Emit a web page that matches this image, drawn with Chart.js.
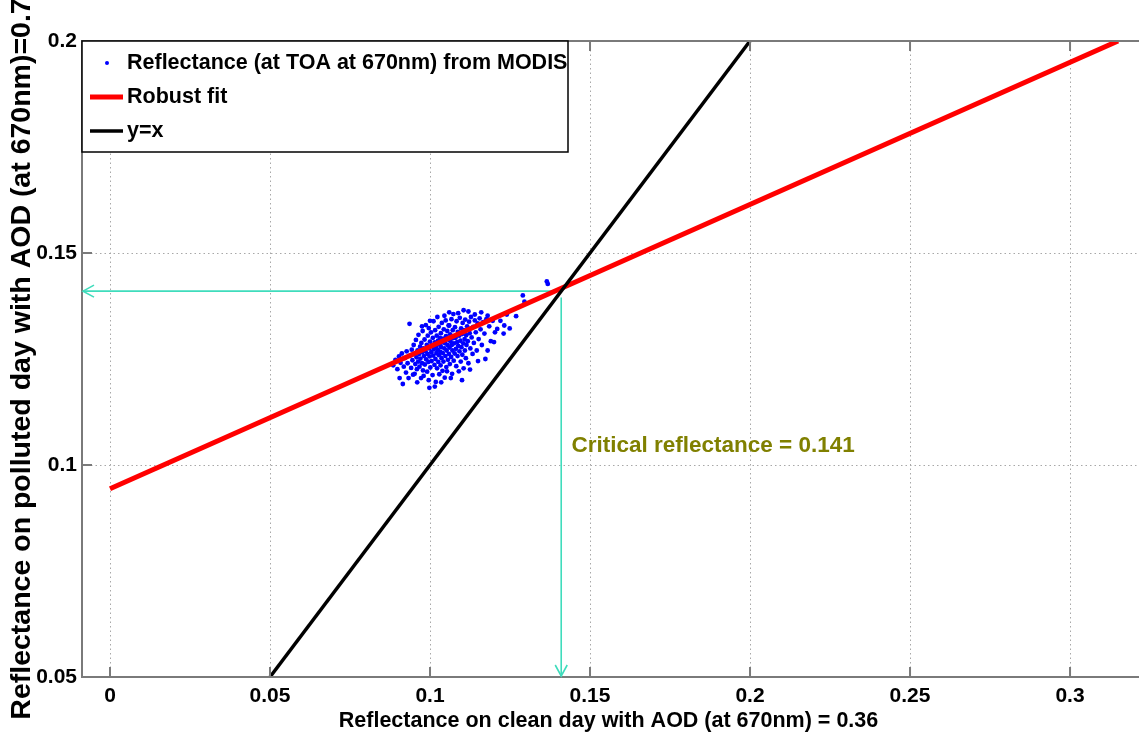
<!DOCTYPE html>
<html>
<head>
<meta charset="utf-8">
<script src="https://cdn.jsdelivr.net/npm/chart.js@4.4.1/dist/chart.umd.min.js"></script>
<style>
  html, body { margin: 0; padding: 0; background: #fff; }
  #wrap { width: 1139px; height: 741px; }
</style>
</head>
<body>
<div id="wrap"><canvas id="myChart" width="1139" height="741"></canvas></div>
<script>
// Trục và nhãn
const xTicks = [0, 0.05, 0.1, 0.15, 0.2, 0.25, 0.3];
const xTickLabels = ["0", "0.05", "0.1", "0.15", "0.2", "0.25", "0.3"];
const yTicks = [0.05, 0.1, 0.15, 0.2];
const yTickLabels = ["0.05", "0.1", "0.15", "0.2"];
const xRange = [-0.00875, 0.3203];
const yRange = [0.05, 0.2];

// Điểm MODIS
const modisPoints = [
  [0.0885,0.1235],[0.0892,0.1248],[0.0898,0.1226],[0.0903,0.1256],[0.0908,0.1241],[0.0912,0.1263],
  [0.0915,0.1191],[0.0918,0.1232],[0.0921,0.1252],[0.0925,0.1218],[0.0927,0.1268],[0.0930,0.1240],
  [0.0933,0.1205],[0.0936,0.1333],[0.0938,0.1258],[0.0905,0.1205],
  [0.0941,0.1229],[0.0943,0.1272],[0.0945,0.1247],[0.0947,0.1213],[0.0949,0.1283],[0.0951,0.1261],
  [0.0952,0.1215],[0.0954,0.1238],[0.0956,0.1295],[0.0958,0.1254],[0.0959,0.1226],[0.0961,0.1270],
  [0.0963,0.1244],[0.0964,0.1307],[0.0966,0.1262],[0.0967,0.1232],[0.0969,0.1279],[0.0970,0.1251],
  [0.0972,0.1205],[0.0973,0.1288],[0.0975,0.1240],[0.0976,0.1266],[0.0977,0.1316],[0.0978,0.1223],
  [0.0979,0.1275],[0.0980,0.1210],[0.0981,0.1257],[0.0960,0.1195],[0.0975,0.1327],
  [0.0983,0.1296],[0.0984,0.1237],[0.0986,0.1268],[0.0987,0.1330],[0.0988,0.1249],[0.0990,0.1283],
  [0.0991,0.1220],[0.0992,0.1262],[0.0993,0.1305],[0.0995,0.1243],[0.0996,0.1200],[0.0996,0.1323],
  [0.0997,0.1275],[0.0998,0.1182],[0.0999,0.1256],[0.1000,0.1291],[0.1001,0.1230],[0.1003,0.1313],
  [0.1004,0.1266],[0.1005,0.1245],[0.1006,0.1282],[0.1008,0.1212],[0.1009,0.1300],[0.1010,0.1258],
  [0.1011,0.1339],[0.1012,0.1273],[0.1014,0.1236],[0.1015,0.1289],[0.1016,0.1318],[0.1017,0.1250],
  [0.1018,0.1196],[0.1019,0.1280],[0.1020,0.1264],[0.1021,0.1305],[0.1022,0.1228],[0.1023,0.1349],
  [0.1024,0.1272],[0.1025,0.1293],[0.1026,0.1243],[0.1027,0.1326],[0.1028,0.1259],[0.1029,0.1214],
  [0.1030,0.1284],[0.1000,0.1340],[0.1015,0.1185],
  [0.1031,0.1300],[0.1032,0.1267],[0.1033,0.1235],[0.1034,0.1311],[0.1035,0.1278],[0.1036,0.1252],
  [0.1037,0.1335],[0.1038,0.1289],[0.1039,0.1222],[0.1040,0.1264],[0.1041,0.1298],[0.1042,0.1244],
  [0.1043,0.1320],[0.1045,0.1275],[0.1046,0.1206],[0.1047,0.1287],[0.1048,0.1257],[0.1049,0.1341],
  [0.1050,0.1304],[0.1051,0.1231],[0.1052,0.1270],[0.1053,0.1221],[0.1054,0.1316],[0.1055,0.1283],
  [0.1056,0.1248],[0.1057,0.1296],[0.1058,0.1329],[0.1059,0.1262],[0.1060,0.1329],[0.1061,0.1277],
  [0.1062,0.1238],[0.1063,0.1308],[0.1064,0.1292],[0.1066,0.1255],[0.1067,0.1344],[0.1068,0.1283],
  [0.1069,0.1215],[0.1070,0.1270],[0.1071,0.1318],[0.1072,0.1299],[0.1073,0.1356],[0.1074,0.1246],
  [0.1075,0.1287],[0.1077,0.1263],[0.1078,0.1325],[0.1035,0.1195],[0.1045,0.1352],[0.1060,0.1360],
  [0.1065,0.1205],
  [0.1080,0.1300],[0.1081,0.1274],[0.1082,0.1233],[0.1083,0.1339],[0.1085,0.1290],[0.1086,0.1257],
  [0.1087,0.1314],[0.1088,0.1281],[0.1090,0.1221],[0.1091,0.1305],[0.1092,0.1268],[0.1093,0.1347],
  [0.1095,0.1293],[0.1096,0.1244],[0.1097,0.1322],[0.1098,0.1278],[0.1100,0.1309],[0.1101,0.1260],
  [0.1102,0.1335],[0.1104,0.1287],[0.1105,0.1228],[0.1106,0.1318],[0.1108,0.1297],[0.1109,0.1270],
  [0.1110,0.1343],[0.1112,0.1252],[0.1113,0.1306],[0.1114,0.1283],[0.1088,0.1358],[0.1100,0.1200],
  [0.1105,0.1365],
  [0.1116,0.1327],[0.1118,0.1292],[0.1120,0.1240],[0.1122,0.1338],[0.1124,0.1311],[0.1126,0.1275],
  [0.1128,0.1349],[0.1130,0.1301],[0.1133,0.1262],[0.1135,0.1326],[0.1137,0.1288],[0.1140,0.1341],
  [0.1143,0.1313],[0.1146,0.1270],[0.1149,0.1334],[0.1152,0.1297],[0.1155,0.1346],[0.1158,0.1320],
  [0.1162,0.1283],[0.1166,0.1337],[0.1170,0.1310],[0.1173,0.1250],[0.1176,0.1344],[0.1180,0.1270],
  [0.1185,0.1327],[0.1190,0.1292],[0.1120,0.1362],[0.1125,0.1225],[0.1140,0.1355],[0.1150,0.1245],
  [0.1160,0.1360],[0.1180,0.1352],
  [0.1196,0.1340],[0.1203,0.1313],[0.1210,0.1321],[0.1220,0.1340],[0.1232,0.1329],[0.1240,0.1355],
  [0.1249,0.1322],[0.1269,0.1351],[0.1290,0.1400],[0.1295,0.1385],[0.1365,0.1433],[0.1368,0.1427],
  [0.1200,0.1290],[0.1230,0.1310]
];

// Đường robust fit và y=x
const fitX = [0, 0.315];
const fitY = [0.0944, 0.2];
const identityX = [0.05, 0.2];
const identityY = [0.05, 0.2];

// Giá trị phản xạ tới hạn
const criticalValue = 0.141;
const criticalLabel = "Critical reflectance = 0.141";
const hArrowX = [0.138, xRange[0]];
const vArrowY = [0.1395, yRange[0]];

const sans = '"Liberation Sans", Arial, sans-serif';
const teal = "#3fdcbc";

const toXY = (xs, ys) => xs.map((v, i) => ({ x: v, y: ys[i] }));

// Khung kiểu MATLAB: lưới chấm, vạch chia hướng vào trong, mũi tên, chú thích
const matlabFrame = {
  id: "matlabFrame",
  beforeDatasetsDraw(chart) {
    const { ctx, chartArea: a, scales: { x, y } } = chart;
    ctx.save();
    ctx.strokeStyle = "#a8a8a8";
    ctx.lineWidth = 1;
    ctx.setLineDash([1.5, 3]);
    xTicks.forEach(v => {
      const px = Math.round(x.getPixelForValue(v)) + 0.5;
      ctx.beginPath(); ctx.moveTo(px, a.top); ctx.lineTo(px, a.bottom); ctx.stroke();
    });
    yTicks.forEach(v => {
      const py = Math.round(y.getPixelForValue(v)) + 0.5;
      ctx.beginPath(); ctx.moveTo(a.left, py); ctx.lineTo(chart.width, py); ctx.stroke();
    });
    ctx.restore();
  },
  afterDatasetsDraw(chart) {
    const { ctx, chartArea: a, scales: { x, y } } = chart;
    ctx.save();
    // khung (mép phải nằm ngoài ảnh)
    ctx.strokeStyle = "#7a7a7a";
    ctx.lineWidth = 2;
    ctx.beginPath();
    ctx.moveTo(chart.width, a.top); ctx.lineTo(a.left, a.top);
    ctx.lineTo(a.left, a.bottom); ctx.lineTo(chart.width, a.bottom);
    xTicks.forEach(v => {
      const px = x.getPixelForValue(v);
      ctx.moveTo(px, a.bottom); ctx.lineTo(px, a.bottom - 10);
      ctx.moveTo(px, a.top); ctx.lineTo(px, a.top + 10);
    });
    yTicks.forEach(v => {
      const py = y.getPixelForValue(v);
      ctx.moveTo(a.left, py); ctx.lineTo(a.left + 10, py);
    });
    ctx.stroke();

    // mũi tên
    const cy = y.getPixelForValue(criticalValue);
    const cx = x.getPixelForValue(criticalValue);
    ctx.strokeStyle = teal;
    ctx.lineWidth = 1.6;
    ctx.beginPath();
    ctx.moveTo(a.left + 12, cy - 6); ctx.lineTo(a.left + 1, cy); ctx.lineTo(a.left + 12, cy + 6);
    ctx.moveTo(cx - 6, a.bottom - 12); ctx.lineTo(cx, a.bottom - 1); ctx.lineTo(cx + 6, a.bottom - 12);
    ctx.stroke();

    // nhãn critical
    ctx.fillStyle = "#808000";
    ctx.font = "bold 22.5px " + sans;
    ctx.textBaseline = "middle";
    ctx.fillText(criticalLabel, x.getPixelForValue(0.1442), y.getPixelForValue(0.1046));

    // chú thích
    const lx = a.left, ly = a.top, lw = 486, lh = 111;
    ctx.fillStyle = "#fff";
    ctx.fillRect(lx, ly, lw, lh);
    ctx.strokeStyle = "#000";
    ctx.lineWidth = 1.5;
    ctx.strokeRect(lx, ly, lw, lh);
    const rows = chart.data.datasets.filter(d => d.label);
    rows.forEach((d, i) => {
      const ry = ly + 22 + i * 34;
      if (d.showLine) {
        ctx.strokeStyle = d.borderColor;
        ctx.lineWidth = d.borderWidth;
        ctx.beginPath(); ctx.moveTo(lx + 8, ry); ctx.lineTo(lx + 41, ry); ctx.stroke();
      } else {
        ctx.fillStyle = d.backgroundColor;
        ctx.beginPath(); ctx.arc(lx + 25, ry, 2, 0, Math.PI * 2); ctx.fill();
      }
      ctx.fillStyle = "#000";
      ctx.font = "bold 21.5px " + sans;
      ctx.textBaseline = "middle";
      ctx.fillText(d.label, lx + 45, ry);
    });
    ctx.restore();
  }
};

const data = {
  datasets: [
    {
      label: "Reflectance (at TOA at 670nm) from MODIS",
      data: modisPoints.map(p => ({ x: p[0], y: p[1] })),
      backgroundColor: "#0000ff",
      borderWidth: 0,
      pointRadius: 2.4,
      showLine: false,
      order: 4
    },
    {
      label: "Robust fit",
      data: toXY(fitX, fitY),
      borderColor: "#ff0000",
      borderWidth: 5,
      pointRadius: 0,
      showLine: true,
      order: 2
    },
    {
      label: "y=x",
      data: toXY(identityX, identityY),
      borderColor: "#000000",
      borderWidth: 3.5,
      pointRadius: 0,
      showLine: true,
      order: 1
    },
    {
      data: toXY(hArrowX, [criticalValue, criticalValue]),
      borderColor: teal,
      borderWidth: 1.6,
      pointRadius: 0,
      showLine: true,
      order: 3
    },
    {
      data: toXY([criticalValue, criticalValue], vArrowY),
      borderColor: teal,
      borderWidth: 1.6,
      pointRadius: 0,
      showLine: true,
      order: 3
    }
  ]
};

const config = {
  type: "scatter",
  data: data,
  options: {
    responsive: false,
    animation: false,
    layout: { padding: { top: 41, right: 0, left: 0, bottom: 0 } },
    plugins: {
      legend: { display: false },
      tooltip: { enabled: false }
    },
    scales: {
      x: {
        type: "linear",
        min: xRange[0],
        max: xRange[1],
        afterBuildTicks: s => { s.ticks = xTicks.map(v => ({ value: v })); },
        afterFit: s => { s.height = 64; },
        grid: { display: false, drawTicks: false },
        border: { display: false },
        ticks: {
          callback: v => xTickLabels[xTicks.indexOf(v)],
          font: { family: sans, size: 21, weight: "bold" },
          color: "#000",
          padding: 7,
          maxRotation: 0,
          autoSkip: false
        },
        title: {
          display: true,
          text: "Reflectance on clean day with AOD (at 670nm) = 0.36",
          font: { family: sans, size: 21.5, weight: "bold" },
          color: "#000",
          padding: { top: 0, bottom: 7 }
        }
      },
      y: {
        type: "linear",
        min: yRange[0],
        max: yRange[1],
        afterBuildTicks: s => { s.ticks = yTicks.map(v => ({ value: v })); },
        afterFit: s => { s.width = 82; },
        grid: { display: false, drawTicks: false },
        border: { display: false },
        ticks: {
          callback: v => yTickLabels[yTicks.indexOf(v)],
          font: { family: sans, size: 21, weight: "bold" },
          color: "#000",
          padding: 5,
          autoSkip: false
        },
        title: {
          display: true,
          text: "Reflectance on polluted day with AOD (at 670nm)=0.7",
          font: { family: sans, size: 28.5, weight: "bold" },
          color: "#000",
          padding: { top: 5, bottom: 0 }
        }
      }
    }
  },
  plugins: [matlabFrame]
};

// Vẽ biểu đồ
const ctx = document.getElementById("myChart").getContext("2d");
new Chart(ctx, config);
</script>
</body>
</html>
